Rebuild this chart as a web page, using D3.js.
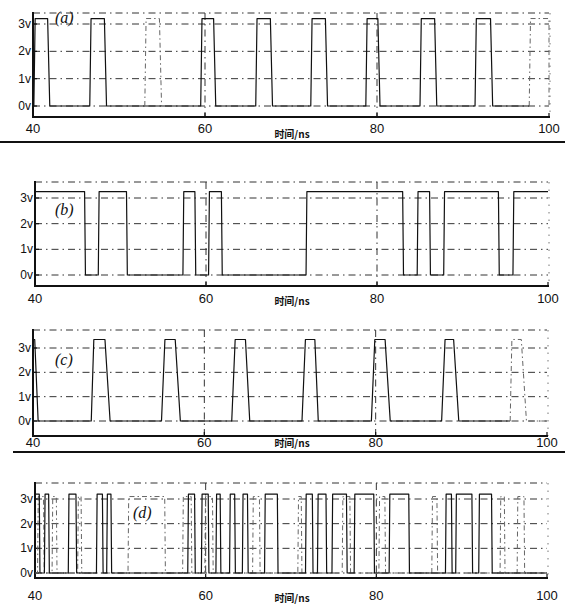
<!DOCTYPE html>
<meta charset="utf-8">
<style>
    body { margin: 0; background: #fff; }
    svg { display: block; }
    .tickLabel { font: 13px "Liberation Sans", Arial, sans-serif; fill: #111; text-anchor: middle; }
    .vLabel { font: 12px "Liberation Sans", Arial, sans-serif; fill: #111; text-anchor: end; }
    .xTitle { font: bold 10px "Noto Sans CJK SC", sans-serif; fill: #111; text-anchor: middle; }
    .panelLabel { font: italic 16px "Liberation Serif", "DejaVu Serif", serif; fill: #111; }
</style>
<body>
<script src="https://d3js.org/d3.v7.min.js"></script>
<script>
    let width = 565;
    let height = 605;

    // axis values
    let xTicks = [40, 60, 80, 100];
    let xGrid = [60, 80];
    let yTicks = [0, 1, 2, 3];
    let yTickLabels = ["0v", "1v", "2v", "3v"];
    let xTitle = "时间/ns";

    // (a) pulses [rise, fall] in ns
    let aHigh = 3.2;
    let aPulses = [[40.1, 41.7], [46.6, 48.3], [59.5, 61.0], [65.9, 67.6], [72.3, 74.0],
                   [78.7, 80.1], [85.0, 86.7], [91.4, 93.2]];
    let aFaint = [[53.0, 54.7], [97.7, 100]];

    // (b) steps [time, level]
    let bSteps = [[40, 3.25], [45.8, 0], [47.4, 3.25], [50.7, 0], [57.3, 3.25], [58.7, 0],
                  [60.3, 3.25], [61.8, 0], [71.7, 3.25], [83.0, 0], [84.7, 3.25], [86.15, 0],
                  [87.8, 3.25], [94.2, 0], [95.9, 3.25]];

    // (c) pulses [rise start, rise end, fall start, fall end]
    let cHigh = 3.35;
    let cPulses = [[40, 40, 40.2, 40.6], [46.8, 47.1, 48.4, 49.0], [55.0, 55.4, 56.6, 57.2],
                   [63.2, 63.6, 64.8, 65.3], [71.4, 71.8, 72.9, 73.3], [79.5, 79.9, 81.1, 81.7],
                   [87.7, 88.1, 89.1, 89.7]];
    let cFaint = [[95.7, 95.9, 97.0, 97.6]];

    // (d) steps [time, level], main trace and faint trace
    let dSteps = [[40.0, 3.2], [40.5, 0], [41.1, 3.2], [41.6, 0], [43.9, 3.2], [44.8, 0],
                  [47.2, 3.2], [47.9, 0], [48.4, 3.2], [48.9, 0], [57.9, 3.2], [58.7, 0],
                  [59.5, 3.2], [60.3, 0], [61.2, 3.2], [61.7, 0], [62.8, 3.2], [63.4, 0],
                  [64.3, 3.2], [64.9, 0], [66.9, 3.2], [68.4, 0], [71.7, 3.2], [72.5, 0],
                  [73.1, 3.2], [74.1, 0], [74.8, 3.2], [76.5, 0], [77.4, 3.2], [79.7, 0],
                  [81.5, 3.2], [83.8, 0], [88.1, 3.2], [88.8, 0], [89.3, 3.2], [91.2, 0],
                  [92.0, 3.2], [93.5, 0]];
    let dSteps2 = [[40, 0], [40.3, 3.1], [41.0, 0], [42.0, 3.1], [42.5, 0], [45.0, 3.1],
                   [45.4, 0], [50.9, 3.1], [55.2, 0], [57.3, 3.1], [58.3, 0], [59.9, 3.1],
                   [60.8, 0], [65.5, 3.1], [66.3, 0], [70.8, 3.1], [71.2, 0], [76.0, 3.1],
                   [76.9, 0], [80.3, 3.1], [81.0, 0], [86.5, 3.1], [87.1, 0], [94.5, 3.1],
                   [95.0, 0], [96.5, 3.1], [97.3, 0]];

    // panel frames (px)
    let panels = [
        {label: "(a)", left: 33, right: 549, top: 13, bottom: 117, y0: 106, y3: 24, tickY: 133, titleY: 138, labelX: 55, labelY: 23},
        {label: "(b)", left: 35, right: 548, top: 182, bottom: 286, y0: 275, y3: 198, tickY: 303, titleY: 305, labelX: 55, labelY: 215},
        {label: "(c)", left: 33, right: 547, top: 330, bottom: 436, y0: 421, y3: 348, tickY: 447, titleY: 447, labelX: 55, labelY: 365},
        {label: "(d)", left: 35, right: 547, top: 483, bottom: 578, y0: 573, y3: 499, tickY: 600, titleY: 602, labelX: 133, labelY: 518}
    ];

    let svg = d3.select("body").append("svg")
        .attr("width", width)
        .attr("height", height);

    // separators across the page
    svg.append("line").attr("x1", 0).attr("x2", width).attr("y1", 142).attr("y2", 142)
        .attr("stroke", "#111").attr("stroke-width", 2);
    svg.append("line").attr("x1", 13).attr("x2", width).attr("y1", 452).attr("y2", 452)
        .attr("stroke", "#111").attr("stroke-width", 2);

    function stepPoints(steps, end, edge) {
        let pts = [];
        steps.forEach(function(s, i) {
            if (i === 0) { pts.push([s[0], s[1]]); return; }
            let prev = steps[i - 1][1];
            pts.push([s[0], prev]);
            pts.push([s[0] + edge, s[1]]);
        });
        pts.push([end, steps[steps.length - 1][1]]);
        return pts;
    }

    function pulsePoints(pulses, high) {
        let pts = [];
        pulses.forEach(function(p) {
            pts.push([p[0], 0], [p[1], high], [p[2], high], [p[3], 0]);
        });
        return pts;
    }

    function edgePulses(pulses, rise, fall) {
        return pulses.map(function(p) { return [p[0], p[0] + rise, p[1], Math.min(p[1] + fall, 100)]; });
    }

    function drawPanel(p, i) {
        let g = svg.append("g").attr("id", "panel" + i);
        let x = d3.scaleLinear().domain([40, 100]).range([p.left, p.right]);
        let y = d3.scaleLinear().domain([0, 3]).range([p.y0, p.y3]);
        let line = d3.line().x(d => x(d[0])).y(d => y(d[1]));

        // grid, dash-dot
        g.selectAll(".hgrid").data(yTicks).join("line")
            .attr("x1", p.left).attr("x2", p.right)
            .attr("y1", d => y(d)).attr("y2", d => y(d))
            .attr("stroke", "#333").attr("stroke-width", 1)
            .attr("stroke-dasharray", "7,4,1.5,4");
        g.append("line")
            .attr("x1", p.left).attr("x2", p.right).attr("y1", p.top).attr("y2", p.top)
            .attr("stroke", "#333").attr("stroke-width", 1)
            .attr("stroke-dasharray", "7,4,1.5,4");
        g.selectAll(".vgrid").data(xGrid).join("line")
            .attr("x1", d => x(d)).attr("x2", d => x(d))
            .attr("y1", p.top).attr("y2", p.bottom)
            .attr("stroke", "#333").attr("stroke-width", 1)
            .attr("stroke-dasharray", "7,4,1.5,4");
        g.append("line")
            .attr("x1", p.right + 1).attr("x2", p.right + 1).attr("y1", p.top).attr("y2", p.bottom)
            .attr("stroke", "#777").attr("stroke-width", 1)
            .attr("stroke-dasharray", "1.5,6");

        // frame
        g.append("line")
            .attr("x1", p.left).attr("x2", p.left).attr("y1", p.top - 1).attr("y2", p.bottom + 1)
            .attr("stroke", "#111").attr("stroke-width", 2);
        g.append("line")
            .attr("x1", p.left).attr("x2", p.right + 1).attr("y1", p.bottom).attr("y2", p.bottom)
            .attr("stroke", "#111").attr("stroke-width", 2);
        g.selectAll(".ytick").data(yTicks).join("line")
            .attr("x1", p.left).attr("x2", p.left + 4)
            .attr("y1", d => y(d)).attr("y2", d => y(d))
            .attr("stroke", "#111").attr("stroke-width", 1.2);
        g.selectAll(".xtick").data(xTicks).join("line")
            .attr("x1", d => x(d)).attr("x2", d => x(d))
            .attr("y1", p.bottom).attr("y2", p.bottom - 4)
            .attr("stroke", "#111").attr("stroke-width", 1.2);

        // labels
        g.selectAll(".vLabel").data(yTicks).join("text")
            .attr("class", "vLabel")
            .attr("x", p.left - 2).attr("y", d => y(d) + 4)
            .text((d, k) => yTickLabels[k]);
        g.selectAll(".tickLabel").data(xTicks).join("text")
            .attr("class", "tickLabel")
            .attr("x", d => x(d)).attr("y", p.tickY)
            .text(d => d);
        g.append("text").attr("class", "xTitle")
            .attr("x", 292).attr("y", p.titleY)
            .text(xTitle);
        g.append("text").attr("class", "panelLabel")
            .attr("x", p.labelX).attr("y", p.labelY)
            .text(p.label);

        return {g: g, line: line};
    }

    function trace(g, line, pts, faint) {
        g.append("path")
            .attr("d", line(pts))
            .attr("fill", "none")
            .attr("stroke", faint ? "#666" : "#111")
            .attr("stroke-width", faint ? 1 : 1.2)
            .attr("stroke-dasharray", faint ? "5,3,1.5,3" : null)
            .attr("stroke-linejoin", "round");
    }

    // (a)
    let pa = drawPanel(panels[0], 0);
    let aPts = [[40, 0]].concat(pulsePoints(edgePulses(aPulses, 0.15, 0.25), aHigh));
    aPts.push([97.7, 0]);
    trace(pa.g, pa.line, aPts, false);
    edgePulses(aFaint, 0.15, 0.25).forEach(function(p) {
        trace(pa.g, pa.line, pulsePoints([p], aHigh), true);
    });

    // (b)
    let pb = drawPanel(panels[1], 1);
    trace(pb.g, pb.line, stepPoints(bSteps, 100, 0.1), false);

    // (c)
    let pc = drawPanel(panels[2], 2);
    let cPts = pulsePoints(cPulses, cHigh);
    cPts.push([95.7, 0]);
    trace(pc.g, pc.line, cPts, false);
    trace(pc.g, pc.line, pulsePoints(cFaint, cHigh).concat([[100, 0]]), true);

    // (d)
    let pd = drawPanel(panels[3], 3);
    trace(pd.g, pd.line, stepPoints(dSteps2, 100, 0.08), true);
    trace(pd.g, pd.line, stepPoints(dSteps, 100, 0.08), false);
</script>
</body>
